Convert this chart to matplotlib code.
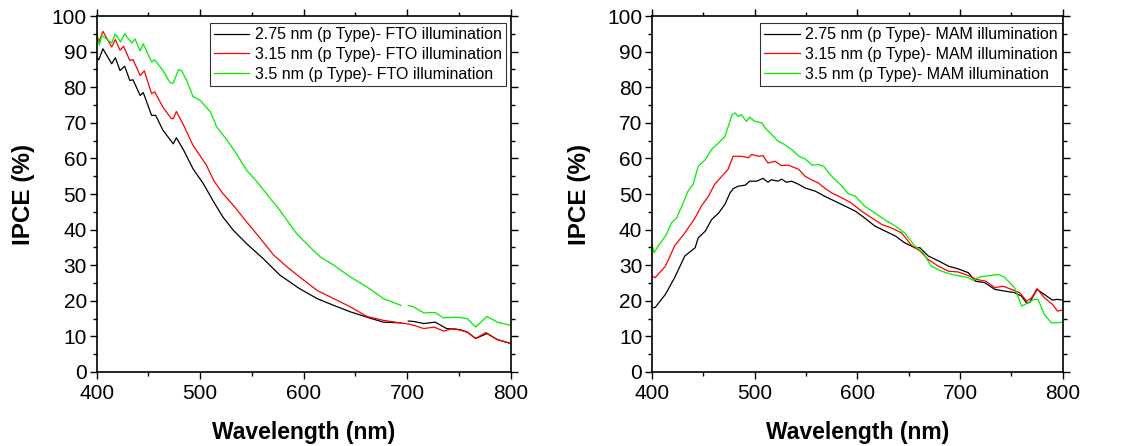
import numpy as np
import matplotlib
matplotlib.use("Agg")
import matplotlib.pyplot as plt
from matplotlib.ticker import MultipleLocator

plt.rcParams['font.family'] = ['Liberation Sans', 'DejaVu Sans']

# ---------------- Left panel: FTO illumination ----------------
fto_275_wl = [400, 402, 406, 414.5, 418, 422.5, 427, 432, 435, 442, 445, 453, 457, 464, 474, 477, 484,
              493, 503, 513, 522, 532, 545, 561, 577, 596, 613, 629, 645, 661, 677, 694,
              697, 701, 706, 716, 727, 738, 751, 758, 766, 777, 787, 800]
fto_275 = [88.5, 87.7, 90.8, 86.6, 88.3, 84.7, 85.9, 81.9, 82.1, 77.7, 78.5, 72.1, 72.1, 67.9, 64.1, 65.8, 62.3,
           57.1, 52.9, 47.8, 43.5, 39.8, 36.0, 31.8, 27.2, 23.4, 20.6, 18.7, 16.9, 15.4, 14.0, 13.8,
           np.nan, 14.3, 14.2, 13.6, 14.0, 12.2, 11.9, 11.2, 9.4, 10.8, 9.1, 8.0]

fto_315_wl = [400, 402, 406, 414.5, 418, 422.5, 426, 432, 435, 442, 446, 453, 456, 464, 472, 474, 477,
              484, 493, 506, 513, 522, 532, 545, 557, 571, 584, 596, 613, 629, 645, 661, 677,
              693, 703, 716, 726, 735, 745, 758, 766, 776, 787, 800]
fto_315 = [95.0, 92.7, 95.7, 91.3, 93.4, 90.4, 91.5, 87.5, 87.8, 83.3, 84.6, 78.2, 78.7, 74.4, 71.2, 71.2, 73.2,
           69.3, 63.7, 58.1, 53.8, 50.1, 46.8, 42.1, 37.9, 32.8, 29.5, 26.7, 22.9, 20.6, 18.3, 15.6, 14.5,
           13.8, 13.4, 12.2, 12.6, 11.5, 12.2, 11.2, 9.4, 11.1, 9.1, 8.0]

fto_35_wl = [400, 402.5, 405, 414.5, 418, 423, 427, 434, 437, 442, 445, 453, 456, 464, 471, 474, 479, 482,
             487, 493, 500, 510, 516, 526, 535, 545, 555, 564, 577, 593, 606, 616, 629, 645, 661, 677,
             694, 697, 701, 706, 716, 727, 735, 748, 758, 766, 777, 787, 800]
fto_35 = [95.0, 91.8, 94.6, 92.4, 95.0, 92.7, 95.0, 92.4, 93.6, 90.2, 92.2, 87.1, 87.7, 84.7, 81.2, 81.2, 84.9, 84.7,
          81.9, 77.4, 76.3, 73.0, 68.8, 65.1, 61.3, 56.6, 53.4, 50.1, 45.4, 38.9, 35.1, 32.3, 30.0, 26.7, 23.9, 20.6,
          18.7, np.nan, 18.7, 18.3, 16.6, 16.7, 15.2, 15.4, 15.0, 12.6, 15.6, 14.0, 13.1]

# ---------------- Right panel: MAM illumination ----------------
mam_275_wl = [400, 403, 413, 422, 432, 442, 445, 452, 458, 465, 471, 476, 479, 484, 491, 495, 502, 508, 513,
              516, 523, 526, 531, 536, 543, 549, 559, 568, 578, 588, 598, 607, 617, 627, 637, 646, 656,
              661, 669, 679, 689, 698, 708, 715, 724, 734, 744, 753, 760, 765, 768, 775, 782, 790, 795, 800]
mam_275 = [18.1, 18.1, 21.8, 26.5, 32.6, 34.9, 37.7, 39.6, 42.8, 44.7, 47.1, 50.3, 51.5, 52.2, 52.5, 53.6, 53.6, 54.4, 53.3,
           54.0, 53.6, 54.2, 53.3, 53.6, 52.7, 51.7, 50.8, 49.4, 48.0, 46.6, 45.2, 43.3, 41.0, 39.6, 38.2, 36.3, 34.9,
           34.9, 32.6, 31.2, 29.7, 29.0, 27.9, 25.5, 25.1, 23.2, 22.7, 22.3, 21.3, 19.3, 19.6, 23.2, 21.8, 20.2, 20.4, 20.2]

mam_315_wl = [400, 403, 413, 422, 432, 442, 448, 455, 461, 468, 474, 479, 482, 487, 494, 497, 504, 508, 513,
              520, 526, 533, 543, 549, 556, 562, 568, 575, 585, 594, 604, 614, 624, 633, 643, 653, 661,
              669, 679, 689, 698, 708, 716, 725, 734, 742, 750, 758, 765, 770, 775, 782, 790, 795, 800]
mam_315 = [26.9, 26.5, 29.7, 35.4, 39.1, 43.3, 46.6, 49.4, 52.7, 55.0, 56.9, 60.6, 60.6, 60.6, 60.2, 61.1, 60.6, 60.8, 58.7,
           59.2, 58.0, 58.1, 56.9, 55.0, 53.9, 53.1, 51.7, 50.3, 48.9, 47.5, 45.2, 43.3, 41.4, 40.5, 39.1, 35.5, 34.0,
           31.6, 29.7, 28.3, 28.1, 27.1, 26.0, 25.5, 23.7, 24.1, 23.2, 22.3, 19.9, 20.9, 23.4, 20.9, 19.0, 17.1, 17.4]

mam_35_wl = [400, 402, 406, 414, 419, 424, 429, 435, 440, 445, 452, 458, 465, 471, 478, 481, 484, 487, 492,
             495, 500, 507, 510, 515, 523, 529, 536, 543, 549, 556, 562, 567, 575, 585, 591, 598, 607,
             617, 627, 637, 646, 656, 664, 672, 682, 692, 701, 708, 712, 721, 730, 737, 743, 753, 760,
             766, 772, 776, 782, 789, 795, 800]
mam_35 = [35.8, 33.5, 35.4, 38.6, 41.9, 43.3, 46.6, 50.8, 52.7, 57.8, 59.7, 62.5, 64.4, 66.2, 72.3, 72.8, 71.8, 72.3, 70.4,
          71.6, 70.4, 70.0, 68.6, 67.2, 64.8, 63.9, 62.5, 60.6, 59.9, 58.1, 58.3, 57.8, 55.0, 52.2, 50.1, 49.4, 46.6,
          44.7, 42.7, 41.0, 39.1, 35.4, 33.5, 29.7, 28.3, 27.4, 26.9, 26.5, 25.8, 26.8, 27.1, 27.4, 26.7, 23.7, 18.5,
          19.4, 20.4, 20.4, 16.2, 13.8, 13.8, 14.0]

labels_fto = ["2.75 nm (p Type)- FTO illumination",
              "3.15 nm (p Type)- FTO illumination",
              "3.5 nm (p Type)- FTO illumination"]
labels_mam = ["2.75 nm (p Type)- MAM illumination",
              "3.15 nm (p Type)- MAM illumination",
              "3.5 nm (p Type)- MAM illumination"]
colors = ["#000000", "#ff0000", "#00ee00"]

fig = plt.figure(figsize=(11.31, 4.46), dpi=100)
axL = fig.add_axes([0.0855, 0.166, 0.3661, 0.798])
axR = fig.add_axes([0.5765, 0.166, 0.3631, 0.798])

def style(ax):
    ax.set_xlim(400, 800)
    ax.set_ylim(0, 100)
    ax.xaxis.set_major_locator(MultipleLocator(100))
    ax.xaxis.set_minor_locator(MultipleLocator(50))
    ax.yaxis.set_major_locator(MultipleLocator(10))
    ax.yaxis.set_minor_locator(MultipleLocator(5))
    ax.tick_params(which='both', direction='out', top=True, right=True,
                   labeltop=False, labelright=False, width=1.0, color='black')
    ax.tick_params(which='major', length=5, labelsize=15)
    ax.tick_params(which='minor', length=2.8)
    ax.tick_params(axis='x', which='major', pad=3.5)
    ax.tick_params(axis='y', which='major', pad=2)
    for s in ax.spines.values():
        s.set_linewidth(1.2)
    ax.set_xlabel("Wavelength (nm)", fontsize=16.5, fontweight='bold', labelpad=13)
    ax.set_ylabel("IPCE (%)", fontsize=17.5, fontweight='bold', labelpad=12)

series_L = [(fto_275_wl, fto_275), (fto_315_wl, fto_315), (fto_35_wl, fto_35)]
series_R = [(mam_275_wl, mam_275), (mam_315_wl, mam_315), (mam_35_wl, mam_35)]

for ax, series, labels, anchor in [(axL, series_L, labels_fto, (0.988, 0.980)),
                                   (axR, series_R, labels_mam, (0.998, 0.980))]:
    for (x, y), c, lab in zip(series, colors, labels):
        ax.plot(x, y, color=c, lw=0.9, label=lab)
    style(ax)
    leg = ax.legend(loc='upper right', bbox_to_anchor=anchor, fontsize=11.5,
                    frameon=True, fancybox=False, borderpad=0.25, labelspacing=0.3,
                    handlelength=2.2, handletextpad=0.35, borderaxespad=0.0)
    leg.get_frame().set_edgecolor('black')
    leg.get_frame().set_linewidth(0.8)

fig.savefig("out.png", dpi=100)
